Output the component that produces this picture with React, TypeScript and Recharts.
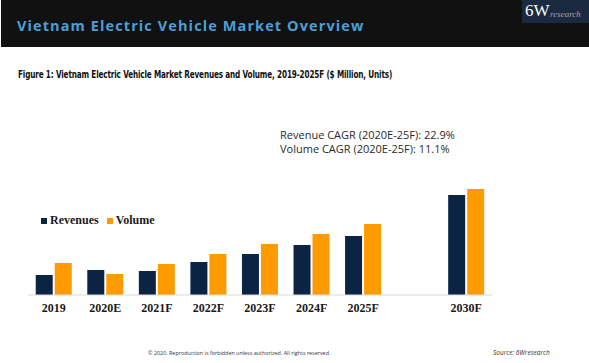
import React from 'react';
import { BarChart, Bar, XAxis, YAxis } from 'recharts';

const years = ['2019', '2020E', '2021F', '2022F', '2023F', '2024F', '2025F', '', '2030F'];
// relative bar heights (no values printed on the chart)
const revenues = [20, 25, 24, 33, 41, 50, 59, null, 100];
const volume = [32, 21, 31, 41, 51, 61, 71, null, 106];

const data = years.map((year, i) => ({ year, revenues: revenues[i], volume: volume[i] }));

const NAVY = '#0c2444';
const ORANGE = '#fd9b00';
const SERIF = '"Liberation Serif", serif';

export default function App() {
  return (
    <div style={{ position: 'fixed', left: 0, top: 0, width: 589, height: 363, background: '#fff', overflow: 'hidden' }}>
      <div style={{ position: 'absolute', left: 1, top: 0, width: 588, height: 47, background: '#111111' }} />
      <div
        style={{
          position: 'absolute', left: 17, top: 16, color: '#4a9fd8', fontFamily: '"Open Sans", sans-serif',
          fontWeight: 700, fontSize: 14.5, letterSpacing: 1.1, whiteSpace: 'nowrap',
        }}
      >
        Vietnam Electric Vehicle Market Overview
      </div>
      <div style={{ position: 'absolute', left: 522, top: 0, width: 67, height: 23, background: '#1b2a40' }}>
        <span style={{ position: 'absolute', left: 3, top: 1, color: '#fff', fontFamily: SERIF, fontSize: 17 }}>6W</span>
        <span style={{ position: 'absolute', left: 28, top: 9, color: '#9aa6b8', fontFamily: SERIF, fontStyle: 'italic', fontSize: 9 }}>research</span>
      </div>

      <div
        style={{
          position: 'absolute', left: 18, top: 68, fontFamily: '"Liberation Sans Narrow", "DejaVu Sans Condensed", sans-serif',
          fontWeight: 700, fontSize: 11, color: '#111', whiteSpace: 'nowrap', letterSpacing: -0.2,
          transform: 'scaleX(0.735)', transformOrigin: 'left top',
        }}
      >
        Figure 1: Vietnam Electric Vehicle Market Revenues and Volume, 2019-2025F ($ Million, Units)
      </div>

      <div style={{ position: 'absolute', left: 280, top: 128, fontFamily: '"Open Sans", sans-serif', fontSize: 11, color: '#2a2a2a', lineHeight: '14px', whiteSpace: 'nowrap' }}>
        <div>Revenue CAGR (2020E-25F): 22.9%</div>
        <div>Volume CAGR (2020E-25F): 11.1%</div>
      </div>

      <div
        style={{
          position: 'absolute', left: 41, top: 213, display: 'flex', alignItems: 'center',
          fontFamily: SERIF, fontWeight: 700, fontSize: 12, color: '#1a1a1a', whiteSpace: 'nowrap',
        }}
      >
        <span style={{ width: 6, height: 6, background: NAVY, display: 'inline-block', marginRight: 3 }} />
        <span style={{ marginRight: 8 }}>Revenues</span>
        <span style={{ width: 6, height: 6, background: ORANGE, display: 'inline-block', marginRight: 3 }} />
        <span>Volume</span>
      </div>

      <div style={{ position: 'absolute', left: 0, top: 0 }}>
        <BarChart
          width={589}
          height={363}
          data={data}
          margin={{ top: 175, right: 97, left: 28, bottom: 38 }}
          barCategoryGap="15%"
          barGap={2}
        >
          <XAxis
            dataKey="year"
            tickLine={false}
            axisLine={{ stroke: '#d9d9d9' }}
            height={30}
            interval={0}
            tick={{ fill: '#1a1a1a', fontSize: 12, fontWeight: 700, fontFamily: SERIF }}
          />
          <YAxis hide domain={[0, 120]} />
          <Bar dataKey="revenues" fill={NAVY} isAnimationActive={false} />
          <Bar dataKey="volume" fill={ORANGE} isAnimationActive={false} />
        </BarChart>
      </div>

      <div style={{ position: 'absolute', left: 148, top: 349, fontFamily: '"Open Sans", sans-serif', fontSize: 5.4, color: '#333', whiteSpace: 'nowrap' }}>
        © 2020. Reproduction is forbidden unless authorized. All rights reserved.
      </div>
      <div style={{ position: 'absolute', left: 493, top: 348, fontFamily: '"Open Sans", sans-serif', fontSize: 6.5, fontStyle: 'italic', color: '#333', whiteSpace: 'nowrap' }}>
        Source: 6Wresearch
      </div>
    </div>
  );
}
